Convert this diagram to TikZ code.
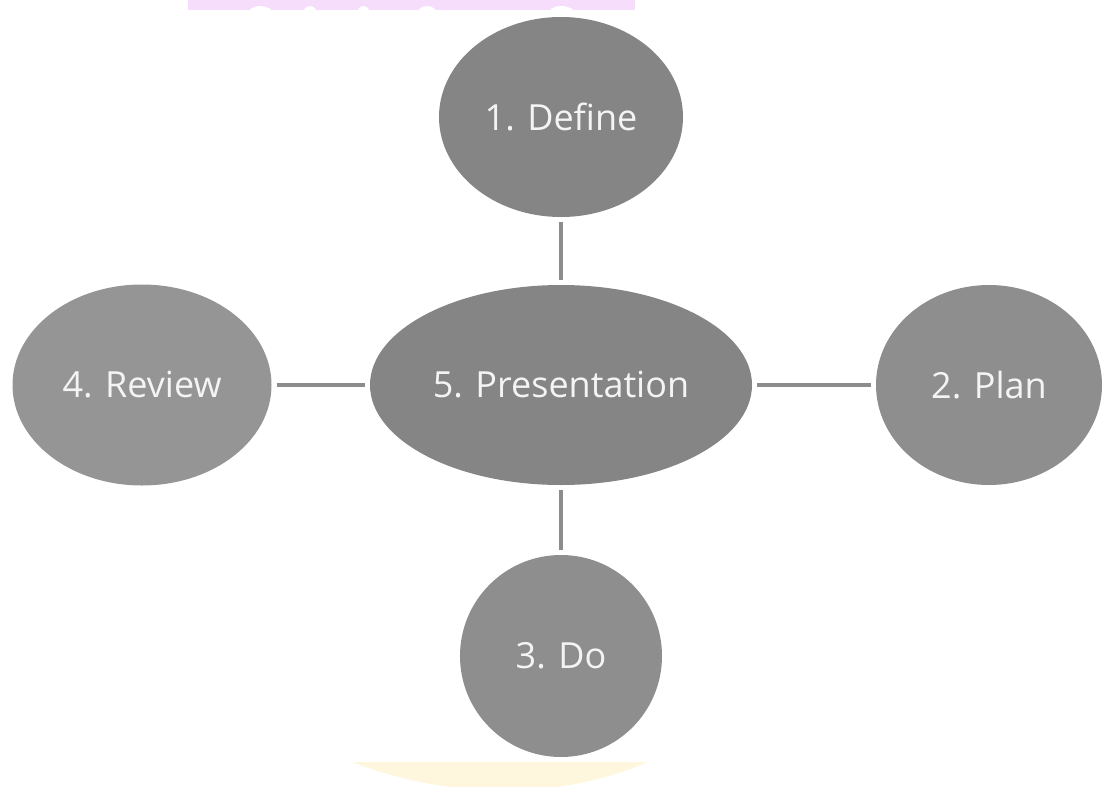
\documentclass[tikz,border=0pt]{standalone}
\usepackage{fontspec}
\setmainfont{Open Sans}
\usetikzlibrary{shapes.geometric}
\definecolor{darkfill}{HTML}{858585}
\definecolor{litefill}{HTML}{959595}
\definecolor{midfill}{HTML}{8E8E8E}
\definecolor{linkgray}{HTML}{8C8C8C}
\definecolor{txt}{HTML}{F4F4F4}
\definecolor{wmpink}{HTML}{F6DDFB}
\definecolor{wmyellow}{HTML}{FFF6DE}
\tikzset{
  bubble/.style={ellipse, inner sep=0pt, text=txt, font=\fontsize{36}{42}\selectfont},
  link/.style={draw=linkgray, line width=4.5pt, shorten <=5pt, shorten >=5pt}
}
\begin{document}
\begin{tikzpicture}[x=1pt,y=-1pt]
\useasboundingbox (0,0) rectangle (1103,787);
% watermark remnants
\fill[wmpink] (188,0) rectangle (635,10);
\foreach \a/\b in {248/273,303/317,357/370,417/437,548/575}
  \fill[white] ({(\a+\b)/2},14) ellipse ({(\b-\a)/2} and 8);
\fill[wmyellow] (352,762) .. controls (450,800) and (560,800) .. (648,762) -- cycle;
% nodes
\node[bubble, fill=darkfill, minimum width=244pt, minimum height=200pt] (def) at (561,117) {1. Define};
\node[bubble, fill=darkfill, minimum width=382pt, minimum height=200pt] (pres) at (561,385) {5. Presentation};
\node[bubble, fill=litefill, minimum width=259pt, minimum height=201pt] (rev) at (142,385) {4. Review};
\node[bubble, fill=midfill, minimum width=226pt, minimum height=200pt] (plan) at (989,385) {2. Plan};
\node[bubble, fill=midfill, minimum width=202pt, minimum height=202pt] (do) at (561,656) {3. Do};
% connectors
\draw[link] (def) -- (pres);
\draw[link] (pres) -- (do);
\draw[link] (rev) -- (pres);
\draw[link] (pres) -- (plan);
\end{tikzpicture}
\end{document}
